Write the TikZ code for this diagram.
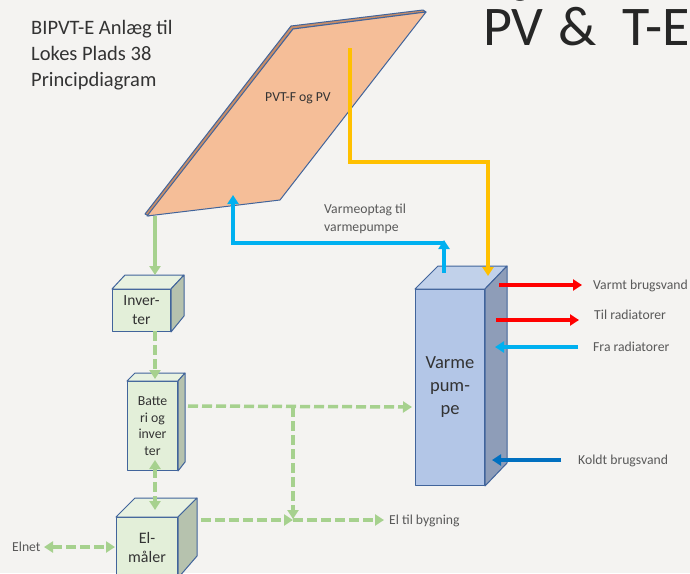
\documentclass[tikz,border=0pt]{standalone}
\usepackage{fontspec}
\setmainfont{Carlito}
\usepackage{tikz}
\usetikzlibrary{arrows.meta}
\definecolor{bgcol}{HTML}{F4F3F1}
\definecolor{edgecol}{HTML}{41649B}
\definecolor{panelcol}{HTML}{F5BE98}
\definecolor{stripcol}{HTML}{C98D66}
\definecolor{greenline}{HTML}{A6D18E}
\definecolor{greenbox}{HTML}{E3EFD9}
\definecolor{greentop}{HTML}{E8F2E1}
\definecolor{greenside}{HTML}{B6C2AE}
\definecolor{bluebox}{HTML}{B3C6E7}
\definecolor{bluetop}{HTML}{C1D1EA}
\definecolor{blueside}{HTML}{8E9DB8}
\definecolor{skyline}{HTML}{00B0F0}
\definecolor{darkline}{HTML}{0070C0}
\definecolor{sunline}{HTML}{FFC000}
\tikzset{
  boxface/.style={draw=edgecol,line width=1pt,line join=round},
  front/.style={boxface,inner sep=0pt,align=center,anchor=north west,text=black!80},
  textlabel/.style={inner sep=0pt,anchor=base west,text=black!65,font=\fontsize{13.7}{17.5}\selectfont},
  pipe/.style={line width=3.5pt,-{Triangle[length=9pt,width=11pt]}},
  power/.style={pipe,greenline},
  powerdash/.style={power,dash pattern=on 10pt off 4pt},
  bothways/.style={{Triangle[length=9pt,width=11pt]}-{Triangle[length=9pt,width=11pt]}}
}
\begin{document}
\begin{tikzpicture}[x=1pt,y=-1pt]
  \fill[bgcol] (0,0) rectangle (690,573);
  \clip (0,0) rectangle (690,573);

  % Panel
  \draw[boxface,fill=stripcol] (145,214) -- (291,26) -- (423,10) -- (426,12) -- (293,29) -- (149,216) -- cycle;
  \draw[boxface,fill=panelcol] (147,216) -- (293,29) -- (426,12) -- (280,200) -- cycle;
  \node[inner sep=0pt,text=black!80,font=\fontsize{13.7}{18}\selectfont] (panel) at (298,98) {PVT-F og PV};

  % Title
  \node[inner sep=0pt,anchor=base west,align=left,text=black!80,font=\fontsize{20.5}{26}\selectfont] (title) at (31,86) {BIPVT-E Anlæg til\\Lokes Plads 38\\Principdiagram};
  \node[inner sep=0pt,anchor=base west,text=black!85,font=\fontsize{56}{56}\selectfont] (head) at (483,45) {PV\hspace{2pt} \&\hspace{13pt} T-E};
  \fill[black!70] (520,-1) ellipse (5pt and 2pt);

  % Boxes
  \node[front,fill=greenbox,minimum width=58pt,minimum height=42pt,font=\fontsize{15.5}{19}\selectfont] (inverter) at (112,289) {Inver-\\ter};
  \draw[boxface,fill=greentop] (inverter.north west) -- (125,275) -- (184,275) -- (inverter.north east) -- cycle;
  \draw[boxface,fill=greenside] (inverter.north east) -- (184,275) -- (184,316) -- (inverter.south east) -- cycle;

  \node[front,fill=greenbox,minimum width=50pt,minimum height=89pt,font=\fontsize{13.8}{16.5}\selectfont] (battery) at (127,381) {Batte\\ri og\\inver\\ter};
  \draw[boxface,fill=greentop] (battery.north west) -- (135,373) -- (185,373) -- (battery.north east) -- cycle;
  \draw[boxface,fill=greenside] (battery.north east) -- (185,373) -- (185,462) -- (battery.south east) -- cycle;

  \node[front,fill=greenbox,minimum width=61pt,minimum height=60pt,font=\fontsize{16}{18.5}\selectfont] (meter) at (116,517) {El-\\måler};
  \draw[boxface,fill=greentop] (meter.north west) -- (135,498) -- (197,498) -- (meter.north east) -- cycle;
  \draw[boxface,fill=greenside] (meter.north east) -- (197,498) -- (197,556) -- (meter.south east) -- cycle;

  \node[front,fill=bluebox,minimum width=69pt,minimum height=196pt,font=\fontsize{18.5}{23}\selectfont] (pump) at (415,289) {Varme\\pum-\\pe};
  \draw[boxface,fill=bluetop] (pump.north west) -- (438,266) -- (507,266) -- (pump.north east) -- cycle;
  \draw[boxface,fill=blueside] (pump.north east) -- (507,266) -- (507,463) -- (pump.south east) -- cycle;

  % Free ends
  \coordinate (panelout) at (155,216);
  \coordinate (inverterin) at (155,275);
  \coordinate (inverterout) at (155,331);
  \coordinate (batteryin) at (155,379);
  \coordinate (batterybot) at (155,460);
  \coordinate (metertop) at (155,510);
  \coordinate (batteryout) at (188,406);
  \coordinate (pumpin) at (412,407);
  \coordinate (branch) at (293,407);
  \coordinate (join) at (293,519);
  \coordinate (meterout) at (201,520);
  \coordinate (buildout) at (384,520);
  \coordinate (gridend) at (44,547);
  \coordinate (meterleft) at (115,547);

  % El
  \draw[power] (panelout) -- (inverterin);
  \draw[powerdash] (inverterout) -- (batteryin);
  \draw[powerdash,bothways] (batterybot) -- (metertop);
  \draw[powerdash] (batteryout) -- (pumpin);
  \draw[powerdash] (branch) -- (join);
  \draw[powerdash] (meterout) -- (join |- meterout);
  \draw[powerdash] (join |- meterout) -- (buildout);
  \draw[powerdash,bothways] (gridend) -- (meterleft);

  % Heat
  \coordinate (solarin) at (233,195);
  \coordinate (corner) at (233,243);
  \coordinate (pumptop) at (444,273);
  \coordinate (pumpup) at (444,240);
  \coordinate (solarout) at (350,48);
  \coordinate (solarturn) at (350,162);
  \coordinate (pumpturn) at (488,162);
  \coordinate (pumpdown) at (488,276);
  \draw[pipe,skyline] (pumptop) -- (pumpup);
  \draw[pipe,skyline] (444,243) -- (corner) -- (solarin);
  \draw[pipe,sunline] (solarout) -- (solarturn) -- (pumpturn) -- (pumpdown);

  % Water
  \coordinate (hotstart) at (499,285);
  \coordinate (hotend) at (582,285);
  \coordinate (radstart) at (496,320);
  \coordinate (radend) at (579,320);
  \coordinate (backstart) at (578,347);
  \coordinate (backend) at (495,347);
  \coordinate (coldstart) at (561,460);
  \coordinate (coldend) at (492,460);
  \draw[pipe,red] (hotstart) -- (hotend);
  \draw[pipe,red] (radstart) -- (radend);
  \draw[pipe,skyline] (backstart) -- (backend);
  \draw[pipe,darkline] (coldstart) -- (coldend);

  % Labels
  \node[textlabel,align=left] (optag) at (324,231) {Varmeoptag til\\varmepumpe};
  \node[textlabel] (hotlabel) at (593,289) {Varmt brugsvand};
  \node[textlabel] (radlabel) at (594,319) {Til radiatorer};
  \node[textlabel] (backlabel) at (593,351) {Fra radiatorer};
  \node[textlabel] (coldlabel) at (578,464) {Koldt brugsvand};
  \node[textlabel] (buildlabel) at (389,524) {El til bygning};
  \node[textlabel] (gridlabel) at (12,551) {Elnet};
\end{tikzpicture}
\end{document}
